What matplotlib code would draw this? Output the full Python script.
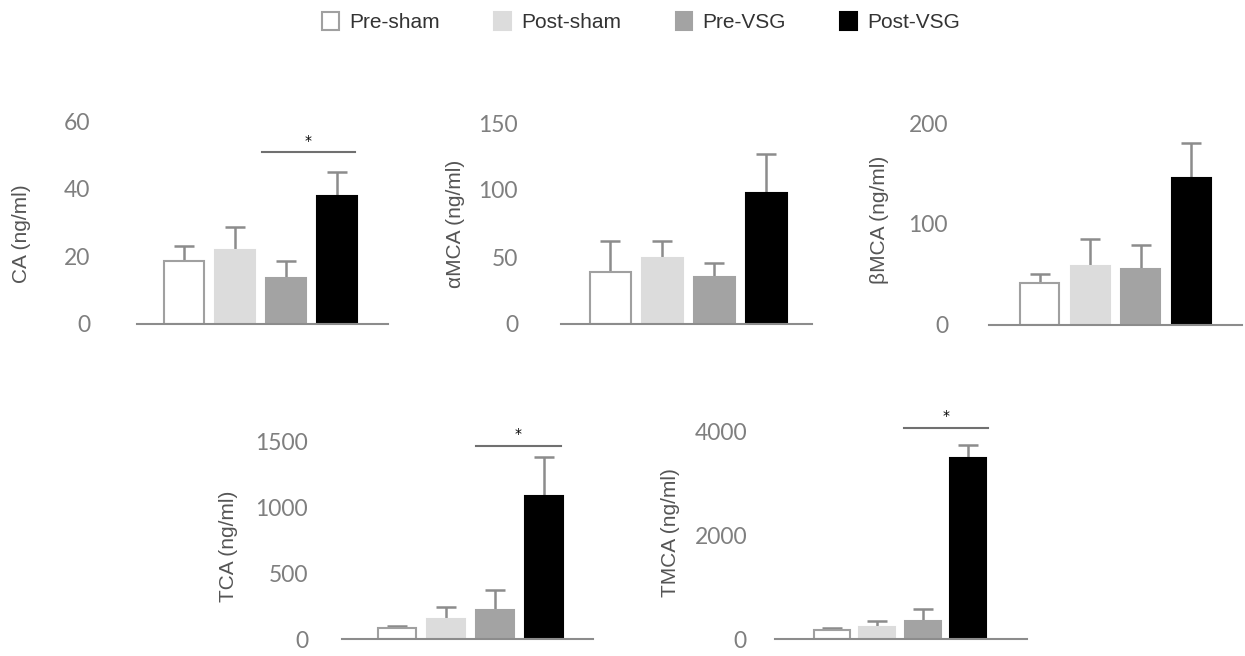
import matplotlib
matplotlib.use("Agg")
import matplotlib.pyplot as plt
from matplotlib.patches import Patch

groups = ["Pre-sham", "Post-sham", "Pre-VSG", "Post-VSG"]
colors = ["white", "#dcdcdc", "#a3a3a3", "black"]
edges = ["#a0a0a0", "#dcdcdc", "#a3a3a3", "black"]

ca_mean = [18.7, 21.9, 13.7, 37.9]
ca_err = [4.4, 6.8, 5.0, 7.0]
amca_mean = [38.6, 49.5, 35.3, 98.0]
amca_err = [23.6, 12.7, 10.5, 29.0]
bmca_mean = [41.3, 58.4, 55.4, 145.8]
bmca_err = [9.2, 26.5, 23.8, 34.7]
tca_mean = [84, 148, 218, 1085]
tca_err = [13, 95, 152, 291]
tmca_mean = [167, 231, 340, 3488]
tmca_err = [45, 115, 237, 250]

panels = [
    # label, means, errs, yticks, ylim top, axes rect px (left, top, right, bottom), xlim, width, tickpad px, label xy, sig
    ("CA (ng/ml)", ca_mean, ca_err, [0, 20, 40, 60], 60,
     (137, 121, 388, 324), (-0.92, 4.0), 0.78, 47, (-0.46, 0.446), (1.53, 3.35, 50.7, 54.0)),
    ("\u03b1MCA (ng/ml)", amca_mean, amca_err, [0, 50, 100, 150], 150,
     (561, 123, 812, 324), (-0.95, 3.88), 0.79, 43, (-0.422, 0.497), None),
    ("\u03b2MCA (ng/ml)", bmca_mean, bmca_err, [0, 100, 200], 200,
     (989, 123, 1242, 325), (-1.0, 4.0), 0.77, 41, (-0.431, 0.52), None),
    ("TCA (ng/ml)", tca_mean, tca_err, [0, 500, 1000, 1500], 1500,
     (342, 441, 593, 639), (-1.13, 4.0), 0.78, 34, (-0.453, 0.47), (1.6, 3.34, 1465, 1550)),
    ("TMCA (ng/ml)", tmca_mean, tmca_err, [0, 2000, 4000], 4000,
     (775, 431, 1027, 639), (-1.25, 4.3), 0.79, 28, (-0.413, 0.51), (1.59, 3.44, 4063, 4280)),
]

W, H = 1245, 656
fig = plt.figure(figsize=(W / 100, H / 100), dpi=100)

for label, means, errs, yticks, ytop, rect, xlim, width, pad, lxy, sig in panels:
    l, t, r, b = rect
    ax = fig.add_axes([l / W, 1 - b / H, (r - l) / W, (b - t) / H])
    x = list(range(len(means)))
    ax.bar(x, means, width=width, color=colors, edgecolor=edges, linewidth=1.5, zorder=2)
    ax.errorbar(x, means, yerr=[[0] * len(errs), errs], fmt="none", ecolor="#8c8c8c",
                elinewidth=1.8, capsize=7, capthick=1.8, zorder=1)
    ax.set_xlim(*xlim)
    ax.set_ylim(0, ytop)
    ax.set_yticks(yticks)
    ax.set_yticklabels([str(v) for v in yticks], fontsize=16.5, color="#7f7f7f", family="Lato")
    ax.tick_params(axis="y", length=0, pad=pad * 0.72)
    ax.set_xticks([])
    for s in ["top", "right", "left"]:
        ax.spines[s].set_visible(False)
    ax.spines["bottom"].set_color("#8c8c8c")
    ax.spines["bottom"].set_linewidth(1.5)
    ax.set_ylabel(label, fontsize=15, color="#555555", family="Liberation Sans")
    ax.yaxis.set_label_coords(*lxy)
    ax.yaxis.label.set_va("center")
    if sig:
        x0, x1, yl, ys = sig
        ax.plot([x0, x1], [yl, yl], color="#707070", lw=1.5, clip_on=False)
        ax.text((x0 + x1) / 2, ys, "*", ha="center", va="center", fontsize=10, color="black")

handles = [Patch(facecolor=c, edgecolor=e, linewidth=1.5) for c, e in zip(colors, edges)]
fig.legend(handles, groups, loc="center", bbox_to_anchor=(0.515, 0.966), ncol=4, frameon=False,
           prop={"family": "Liberation Sans", "size": 15}, labelcolor="#333333",
           handlelength=0.8, handleheight=0.95, handletextpad=0.5, columnspacing=2.6,
           borderpad=0.2)

fig.savefig("out.png", dpi=100)
